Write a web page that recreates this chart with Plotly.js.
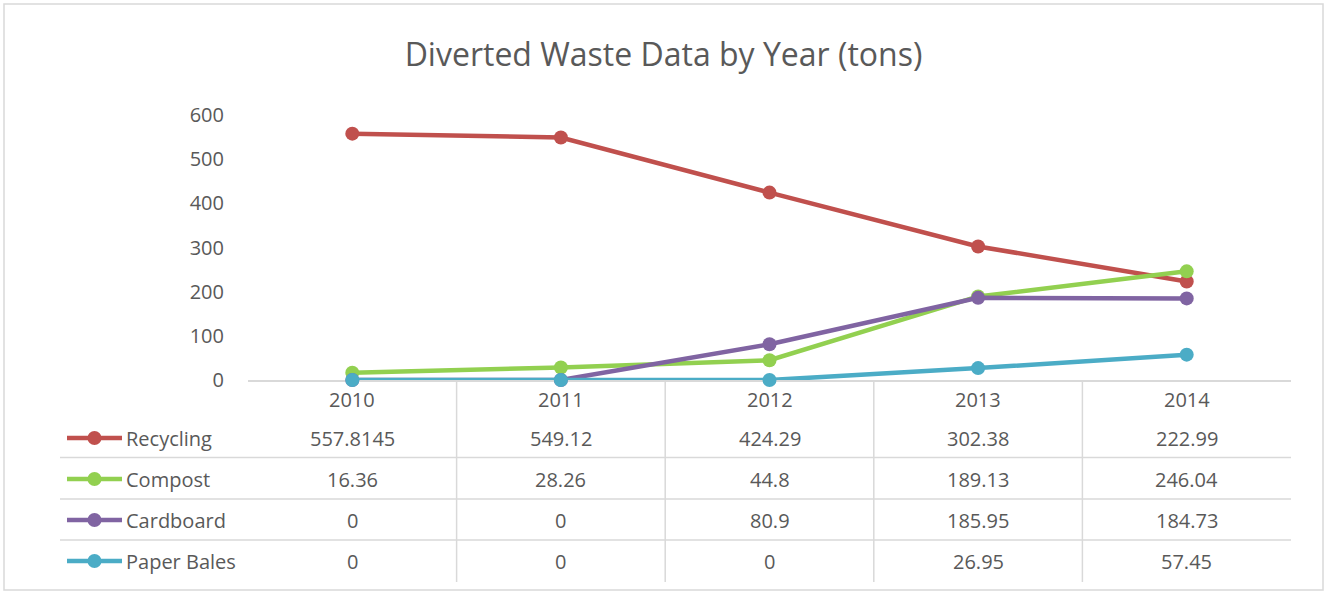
<!DOCTYPE html>
<html>
<head>
<meta charset="utf-8">
<script src="https://cdn.plot.ly/plotly-3.0.1.min.js"></script>
<style>html,body{margin:0;padding:0;background:#fff;}#chart{width:1327px;height:593px;}</style>
</head>
<body>
<div id="chart"></div>
<script>
var years = ['2010', '2011', '2012', '2013', '2014'];
var seriesNames = ['Recycling', 'Compost', 'Cardboard', 'Paper Bales'];
var recycling = [557.8145, 549.12, 424.29, 302.38, 222.99];
var compost = [16.36, 28.26, 44.8, 189.13, 246.04];
var cardboard = [0, 0, 80.9, 185.95, 184.73];
var paperBales = [0, 0, 0, 26.95, 57.45];
var yTicks = [0, 100, 200, 300, 400, 500, 600];
var colors = ['#C0504D', '#92D050', '#8064A2', '#4BACC6'];
var seriesValues = [recycling, compost, cardboard, paperBales];

var W = 1327, H = 593;
var L = 248, R = 1291, T = 115, B = 380;
function px(x) { return (x - L) / (R - L); }
function py(y) { return (B - y) / (B - T); }
var FONT = '"Open Sans", "Liberation Sans", sans-serif';
var TXT = '#595959';
var GRID = '#D9D9D9';

var xIdx = years.map(function (_, i) { return i; });

var traces = seriesValues.map(function (vals, s) {
  return {
    type: 'scatter', mode: 'lines+markers', name: seriesNames[s],
    x: xIdx, y: vals,
    line: { color: colors[s], width: 4.5 },
    marker: { color: colors[s], size: 14 },
    cliponaxis: false, hoverinfo: 'skip'
  };
});

var shapes = [];
var annotations = [];
// outer chart border
shapes.push({ type: 'rect', xref: 'paper', yref: 'paper', x0: px(4), x1: px(1323), y0: py(4), y1: py(590),
  line: { color: GRID, width: 1.5 }, fillcolor: 'rgba(0,0,0,0)', layer: 'below' });

// table geometry
var headerY = 399;
var rowY = [438, 479, 520, 561];
var hLines = [457.5, 499, 540];
hLines.forEach(function (y) {
  shapes.push({ type: 'line', xref: 'paper', yref: 'paper', x0: px(60), x1: px(1291), y0: py(y), y1: py(y),
    line: { color: GRID, width: 1.5 } });
});
for (var k = 0; k < years.length - 1; k++) {
  shapes.push({ type: 'line', xref: 'x', yref: 'paper', x0: k + 0.5, x1: k + 0.5, y0: py(380), y1: py(582),
    line: { color: GRID, width: 1.5 } });
}
// year header
years.forEach(function (yr, i) {
  annotations.push({ xref: 'x', yref: 'paper', x: i, y: py(headerY), text: yr, showarrow: false,
    xanchor: 'center', yanchor: 'middle', font: { family: FONT, size: 20, color: TXT } });
});
// rows
seriesValues.forEach(function (vals, s) {
  var ry = py(rowY[s]);
  shapes.push({ type: 'line', xref: 'paper', yref: 'paper', x0: px(67), x1: px(122), y0: ry, y1: ry,
    line: { color: colors[s], width: 4.5 } });
  shapes.push({ type: 'circle', xref: 'paper', yref: 'paper', xsizemode: 'pixel', ysizemode: 'pixel',
    xanchor: px(94.5), yanchor: ry, x0: -7, x1: 7, y0: -7, y1: 7,
    line: { color: colors[s], width: 0 }, fillcolor: colors[s] });
  annotations.push({ xref: 'paper', yref: 'paper', x: px(124), y: ry, text: seriesNames[s], showarrow: false,
    xanchor: 'left', yanchor: 'middle', font: { family: FONT, size: 20, color: TXT } });
  vals.forEach(function (v, i) {
    annotations.push({ xref: 'x', yref: 'paper', x: i, y: ry, text: String(v), showarrow: false,
      xanchor: 'center', yanchor: 'middle', font: { family: FONT, size: 20, color: TXT } });
  });
});

var layout = {
  width: W, height: H,
  margin: { l: L, r: W - R, t: T, b: H - B, pad: 0 },
  paper_bgcolor: '#fff', plot_bgcolor: '#fff',
  showlegend: false,
  title: { text: 'Diverted Waste Data by Year (tons)', xref: 'container', x: 0.5, xanchor: 'center',
    yref: 'container', y: 1 - 55 / H, yanchor: 'middle', font: { family: FONT, size: 32, color: TXT } },
  xaxis: { range: [-0.5, years.length - 0.5], showgrid: false, zeroline: false, showticklabels: false,
    showline: true, linecolor: GRID, linewidth: 1.5, ticks: '', layer: 'below traces', fixedrange: true },
  yaxis: { range: [0, 600], tickvals: yTicks, ticktext: yTicks.map(String), showgrid: false, zeroline: false,
    showline: false, ticks: 'outside', ticklen: 19, tickcolor: 'rgba(0,0,0,0)',
    tickfont: { family: FONT, size: 20, color: TXT }, fixedrange: true },
  shapes: shapes,
  annotations: annotations
};

Plotly.newPlot('chart', traces, layout, { displayModeBar: false, staticPlot: true });
</script>
</body>
</html>
